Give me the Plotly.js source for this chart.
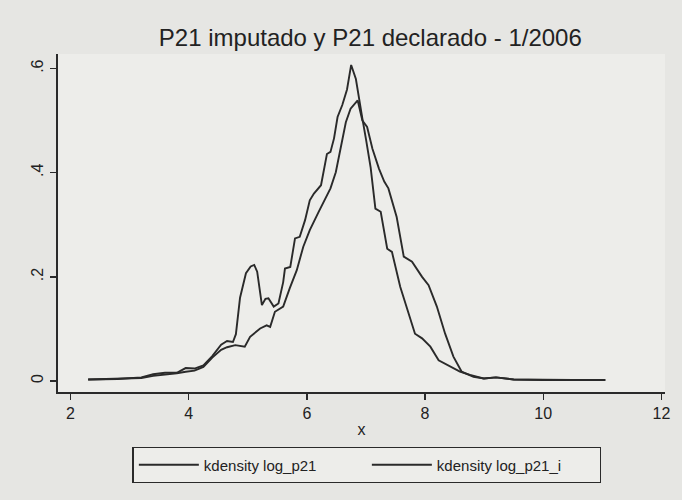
<!DOCTYPE html>
<html>
<head>
<meta charset="utf-8">
<script src="https://cdn.plot.ly/plotly-3.0.1.min.js"></script>
<style>html,body{margin:0;padding:0;background:#e6e6e3;}</style>
</head>
<body>
<div id="chart" style="width:682px;height:500px;"></div>
<script>
// kdensity log_p21 (declared)
var declX = [2.3, 2.8, 3.2, 3.4, 3.6, 3.8, 3.95, 4.1, 4.25, 4.4, 4.55, 4.65, 4.75, 4.8, 4.87, 4.97, 5.05, 5.11, 5.16, 5.24, 5.3, 5.35, 5.44, 5.52, 5.6, 5.63, 5.72, 5.8, 5.88, 5.97, 6.05, 6.12, 6.24, 6.29, 6.34, 6.4, 6.46, 6.52, 6.6, 6.68, 6.75, 6.83, 6.88, 6.94, 7.0, 7.08, 7.16, 7.25, 7.36, 7.44, 7.58, 7.72, 7.83, 7.95, 8.09, 8.23, 8.37, 8.59, 8.76, 8.99, 9.2, 9.5, 10.0, 10.5, 11.05];
var declY = [0.003, 0.004, 0.007, 0.013, 0.016, 0.016, 0.025, 0.024, 0.03, 0.048, 0.07, 0.077, 0.075, 0.09, 0.16, 0.207, 0.22, 0.223, 0.21, 0.146, 0.158, 0.159, 0.143, 0.149, 0.19, 0.216, 0.219, 0.274, 0.277, 0.309, 0.347, 0.36, 0.376, 0.408, 0.436, 0.44, 0.466, 0.507, 0.53, 0.56, 0.607, 0.58, 0.542, 0.504, 0.465, 0.41, 0.331, 0.325, 0.254, 0.248, 0.181, 0.13, 0.091, 0.082, 0.066, 0.04, 0.031, 0.018, 0.012, 0.005, 0.007, 0.003, 0.002, 0.002, 0.002];
// kdensity log_p21_i (imputed)
var impX = [2.3, 2.8, 3.2, 3.4, 3.6, 3.8, 3.95, 4.1, 4.25, 4.4, 4.55, 4.65, 4.79, 4.95, 5.04, 5.21, 5.32, 5.38, 5.46, 5.6, 5.71, 5.83, 5.94, 6.05, 6.2, 6.29, 6.4, 6.49, 6.57, 6.66, 6.74, 6.86, 6.94, 7.02, 7.11, 7.22, 7.31, 7.38, 7.52, 7.64, 7.78, 7.95, 8.06, 8.2, 8.34, 8.48, 8.62, 8.82, 9.0, 9.2, 9.5, 10.0, 10.5, 11.05];
var impY = [0.003, 0.004, 0.006, 0.01, 0.012, 0.015, 0.018, 0.02, 0.027, 0.045, 0.06, 0.065, 0.069, 0.066, 0.085, 0.101, 0.107, 0.104, 0.133, 0.143, 0.178, 0.213, 0.258, 0.29, 0.325, 0.344, 0.37, 0.401, 0.446, 0.497, 0.523, 0.539, 0.5, 0.488, 0.446, 0.408, 0.383, 0.37, 0.315, 0.239, 0.229, 0.2, 0.184, 0.143, 0.091, 0.047, 0.018, 0.008, 0.005, 0.007, 0.003, 0.002, 0.002, 0.002];

var xTicks = [2, 4, 6, 8, 10, 12];
var yTicks = [0, 0.2, 0.4, 0.6];
var yTickText = ["0", ".2", ".4", ".6"];
var seriesNames = ["kdensity log_p21", "kdensity log_p21_i"];

var ink = "#2a2a2a";
var traces = [
  {x: declX, y: declY, type: "scatter", mode: "lines", name: seriesNames[0],
   line: {color: ink, width: 1.9}},
  {x: impX, y: impY, type: "scatter", mode: "lines", name: seriesNames[1],
   line: {color: ink, width: 1.9}}
];

var layout = {
  width: 682, height: 500,
  paper_bgcolor: "#e6e6e3",
  plot_bgcolor: "#ededea",
  font: {family: "Liberation Sans, Arial, sans-serif", color: "#222", size: 15},
  margin: {l: 58, r: 17, t: 54, b: 108},
  title: {text: "P21 imputado y P21 declarado - 1/2006", x: 0.543, xanchor: "center",
          y: 0.925, yanchor: "middle", font: {size: 24, color: "#222"}},
  xaxis: {
    range: [1.79, 12.06], tickvals: xTicks, ticktext: xTicks.map(String),
    showline: true, linecolor: ink, linewidth: 1.6, ticks: "outside", ticklen: 6,
    tickcolor: ink, tickwidth: 1.4, showgrid: false, zeroline: false,
    ticklabelstandoff: 0,
    tickfont: {size: 16}, title: {text: "x", standoff: 3, font: {size: 16}}
  },
  yaxis: {
    range: [-0.021, 0.628], tickvals: yTicks, ticktext: yTickText, tickangle: -90,
    showline: true, linecolor: ink, linewidth: 1.6, ticks: "outside", ticklen: 6,
    tickcolor: ink, tickwidth: 1.4, showgrid: false, zeroline: false,
    ticklabelstandoff: 1,
    tickfont: {size: 16}
  },
  showlegend: true,
  legend: {
    orientation: "h", x: 0.509, xanchor: "center", y: -0.163, yanchor: "top",
    bordercolor: ink, borderwidth: 1.4, bgcolor: "#ededea",
    font: {size: 15}, itemwidth: 60, entrywidth: 158, entrywidthmode: "pixels"
  }
};

Plotly.newPlot("chart", traces, layout, {displayModeBar: false, staticPlot: true});
</script>
</body>
</html>
